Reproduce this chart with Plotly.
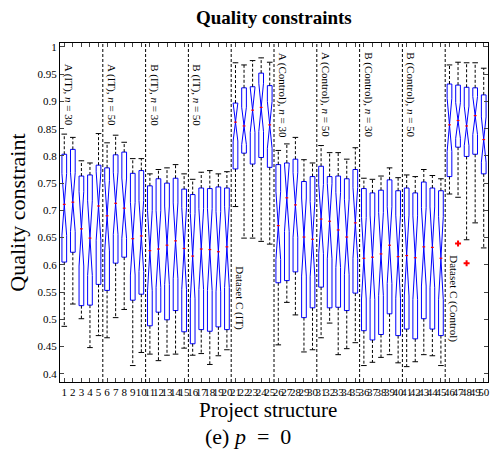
import plotly.graph_objects as go
import math

# ---- data ----
positions = list(range(1, 51))
lower_whisker = [0.487, 0.528, 0.501, 0.448, 0.470, 0.466, 0.503, 0.518, 0.415, 0.439,
                 0.436, 0.424, 0.434, 0.436, 0.447, 0.434, 0.437, 0.417, 0.433, 0.444,
                 0.707, 0.649, 0.649, 0.643, 0.638, 0.453, 0.531, 0.508, 0.440, 0.444,
                 0.466, 0.493, 0.435, 0.446, 0.457, 0.415, 0.421, 0.430, 0.435, 0.420,
                 0.413, 0.422, 0.435, 0.433, 0.415, 0.730, 0.724, 0.646, 0.677, 0.631]
q1 = [0.605, 0.623, 0.525, 0.526, 0.564, 0.553, 0.603, 0.614, 0.535, 0.546,
      0.488, 0.513, 0.499, 0.516, 0.477, 0.455, 0.481, 0.478, 0.486, 0.481,
      0.776, 0.805, 0.785, 0.797, 0.779, 0.567, 0.571, 0.587, 0.503, 0.521,
      0.559, 0.521, 0.522, 0.516, 0.548, 0.479, 0.462, 0.472, 0.510, 0.470,
      0.482, 0.464, 0.501, 0.482, 0.470, 0.762, 0.816, 0.799, 0.803, 0.767]
median = [0.711, 0.715, 0.666, 0.649, 0.708, 0.690, 0.713, 0.704, 0.648, 0.653,
          0.626, 0.629, 0.636, 0.644, 0.630, 0.616, 0.629, 0.628, 0.624, 0.633,
          0.862, 0.855, 0.884, 0.889, 0.857, 0.672, 0.723, 0.710, 0.651, 0.647,
          0.684, 0.680, 0.664, 0.651, 0.677, 0.612, 0.614, 0.620, 0.636, 0.615,
          0.617, 0.613, 0.633, 0.632, 0.612, 0.857, 0.865, 0.855, 0.874, 0.830]
q3 = [0.803, 0.812, 0.763, 0.765, 0.783, 0.778, 0.802, 0.807, 0.768, 0.773,
      0.745, 0.758, 0.750, 0.759, 0.739, 0.729, 0.741, 0.740, 0.743, 0.741,
      0.897, 0.925, 0.927, 0.952, 0.929, 0.784, 0.787, 0.794, 0.753, 0.762,
      0.781, 0.762, 0.763, 0.758, 0.775, 0.740, 0.732, 0.737, 0.756, 0.736,
      0.741, 0.732, 0.752, 0.741, 0.736, 0.932, 0.930, 0.926, 0.925, 0.912]
upper_whisker = [0.840, 0.834, 0.791, 0.787, 0.841, 0.824, 0.838, 0.825, 0.795, 0.795,
                 0.767, 0.775, 0.778, 0.784, 0.767, 0.757, 0.770, 0.773, 0.767, 0.771,
                 0.971, 0.967, 0.975, 0.980, 0.972, 0.810, 0.822, 0.834, 0.793, 0.787,
                 0.819, 0.806, 0.806, 0.794, 0.815, 0.759, 0.757, 0.763, 0.778, 0.760,
                 0.765, 0.762, 0.775, 0.764, 0.758, 0.967, 0.972, 0.971, 0.971, 0.961]
outlier_x = [47, 48]
outlier_y = [0.639, 0.603]
n_runs = 30

group_labels = ["A (IT), <i>n</i> = 30", "A (IT), <i>n</i> = 50",
                "B (IT), <i>n</i> = 30", "B (IT), <i>n</i> = 50", "Dataset C (IT)",
                "A (Control), <i>n</i> = 30", "A (Control), <i>n</i> = 50",
                "B (Control), <i>n</i> = 30", "B (Control), <i>n</i> = 50",
                "Dataset C (Control)"]
group_size = 5
y_ticks = [0.4, 0.45, 0.5, 0.55, 0.6, 0.65, 0.7, 0.75, 0.8, 0.85, 0.9, 0.95, 1.0]
y_tick_text = ["0.4", "0.45", "0.5", "0.55", "0.6", "0.65", "0.7", "0.75", "0.8",
               "0.85", "0.9", "0.95", "1"]

SERIF = "Liberation Serif"

notchspan = [1.57 * (b - a) / math.sqrt(n_runs) for a, b in zip(q1, q3)]

fig = go.Figure()

# whiskers (dashed black)
wx, wy = [], []
for i, lo, a, b, hi in zip(positions, lower_whisker, q1, q3, upper_whisker):
    wx += [i, i, None, i, i, None]
    wy += [b, hi, None, a, lo, None]
fig.add_trace(go.Scatter(x=wx, y=wy, mode="lines",
                         line=dict(color="black", width=1, dash="3px,2px"),
                         hoverinfo="skip", showlegend=False))
# caps
fig.add_trace(go.Scatter(x=positions + positions, y=lower_whisker + upper_whisker,
                         mode="markers",
                         marker=dict(symbol="line-ew", size=4, color="black",
                                     line=dict(color="black", width=1)),
                         hoverinfo="skip", showlegend=False))

# boxes
fig.add_trace(go.Box(x=positions, q1=q1, median=median, q3=q3,
                     lowerfence=q1, upperfence=q3, notchspan=notchspan,
                     notched=True, notchwidth=0.5, width=0.55,
                     whiskerwidth=0, boxpoints=False,
                     line=dict(color="blue", width=1),
                     fillcolor="rgba(0,0,0,0)", showlegend=False))

# red medians
fig.add_trace(go.Scatter(x=positions, y=median, mode="markers",
                         marker=dict(symbol="line-ew", size=2, color="red",
                                     line=dict(color="red", width=1.2)),
                         hoverinfo="skip", showlegend=False))
# outliers
fig.add_trace(go.Scatter(x=outlier_x, y=outlier_y, mode="markers",
                         marker=dict(symbol="cross", size=5, color="red",
                                     line=dict(width=0)),
                         hoverinfo="skip", showlegend=False))

# group separators and labels
shapes = []
annotations = []
n_groups = len(group_labels)
for g in range(n_groups):
    start = g * group_size + 0.5
    if g > 0:
        shapes.append(dict(type="line", xref="x", yref="paper", x0=start, x1=start,
                           y0=0, y1=1, line=dict(color="black", width=1, dash="3px,2px")))
    is_c = group_labels[g].startswith("Dataset")
    annotations.append(dict(x=start + 0.95, y=0.538 if is_c else 0.912,
                            xref="x", yref="y", text=group_labels[g], showarrow=False,
                            textangle=90, xanchor="center", yanchor="middle",
                            font=dict(family=SERIF, size=11, color="black")))

annotations += [
    dict(x=0.5, y=1.074, xref="paper", yref="paper", text="<b>Quality constraints</b>",
         showarrow=False, xanchor="center", yanchor="middle",
         font=dict(family=SERIF, size=19, color="black")),
    dict(x=-0.1, y=0.5, xref="paper", yref="paper", text="Quality constraint",
         showarrow=False, textangle=-90, xanchor="center", yanchor="middle",
         font=dict(family=SERIF, size=22, color="black")),
    dict(x=0.486, y=-0.083, xref="paper", yref="paper", text="Project structure",
         showarrow=False, xanchor="center", yanchor="middle",
         font=dict(family=SERIF, size=21, color="black")),
    dict(x=0.44, y=-0.162, xref="paper", yref="paper",
         text="(e) <i>p</i>&nbsp;&nbsp;=&nbsp;&nbsp;0",
         showarrow=False, xanchor="center", yanchor="middle",
         font=dict(family=SERIF, size=22, color="black")),
]

fig.update_layout(
    width=492, height=455,
    margin=dict(l=60, r=2, t=43, b=73),
    paper_bgcolor="white", plot_bgcolor="white",
    shapes=shapes, annotations=annotations,
    showlegend=False,
    font=dict(family=SERIF, size=11, color="black"),
)
fig.update_xaxes(range=[0.5, 50.5], tickvals=positions, ticktext=[str(p) for p in positions],
                 tickangle=0, ticks="inside", ticklen=4, mirror="ticks", showline=True,
                 linecolor="black", linewidth=1, showgrid=False, zeroline=False,
                 tickfont=dict(family=SERIF, size=11, color="black"))
fig.update_yaxes(range=[0.3848, 1.0073], tickvals=y_ticks, ticktext=y_tick_text,
                 ticks="inside", ticklen=4, mirror="ticks", showline=True,
                 linecolor="black", linewidth=1, showgrid=False, zeroline=False,
                 tickfont=dict(family=SERIF, size=11, color="black"))

fig.write_html("out.html")
